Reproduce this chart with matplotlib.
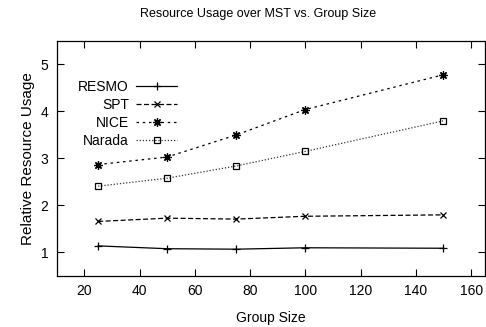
import matplotlib
matplotlib.use('Agg')
import matplotlib.pyplot as plt

plt.rcParams['font.family'] = ['Liberation Sans', 'DejaVu Sans']

# group sizes and resource usage relative to the MST
group_size = [25, 50, 75, 100, 150]
resmo = [1.14, 1.08, 1.07, 1.10, 1.09]
spt = [1.66, 1.73, 1.71, 1.77, 1.80]
nice = [2.87, 3.03, 3.50, 4.04, 4.78]
narada = [2.41, 2.58, 2.84, 3.15, 3.80]

fig = plt.figure(figsize=(4.86, 3.27), dpi=100)
ax = fig.add_axes([0.1167, 0.156, 0.881, 0.719])

ax.plot(group_size, resmo, color='black', lw=0.9, ls='-', marker='+', ms=6, mew=0.9, label='RESMO')
ax.plot(group_size, spt, color='black', lw=0.9, ls=(0, (4, 2)), marker='x', ms=5, mew=0.9, label='SPT')
ax.plot(group_size, nice, color='black', lw=0.9, ls=(0, (2, 3)), marker=(8, 2, 0), ms=6, mew=0.9, label='NICE')
ax.plot(group_size, narada, color='#333333', lw=0.9, ls=(0, (1, 1.5)), marker='s', ms=5, mew=0.9,
        mfc='none', mec='black', label='Narada')

ax.set_xlim(10, 165)
ax.set_ylim(0.5, 5.5)
ax.set_xticks([20, 40, 60, 80, 100, 120, 140, 160])
ax.set_yticks([1, 2, 3, 4, 5])
ax.tick_params(direction='in', length=5, width=0.8, top=True, right=True, labelsize=10, pad=6)
for sp in ax.spines.values():
    sp.set_linewidth(0.9)

ax.set_xlabel('Group Size', fontsize=10, labelpad=9)
ax.set_ylabel('Relative Resource Usage', fontsize=11, labelpad=4)
fig.text(0.53, 0.957, 'Resource Usage over MST vs. Group Size', fontsize=9, ha='center', va='center')

leg = ax.legend(loc='upper left', bbox_to_anchor=(0.05, 0.835), frameon=False, markerfirst=False,
                fontsize=10, handlelength=3.0, handletextpad=0.5, labelspacing=0.3,
                borderpad=0, borderaxespad=0)

fig.savefig('out.png', dpi=100)
